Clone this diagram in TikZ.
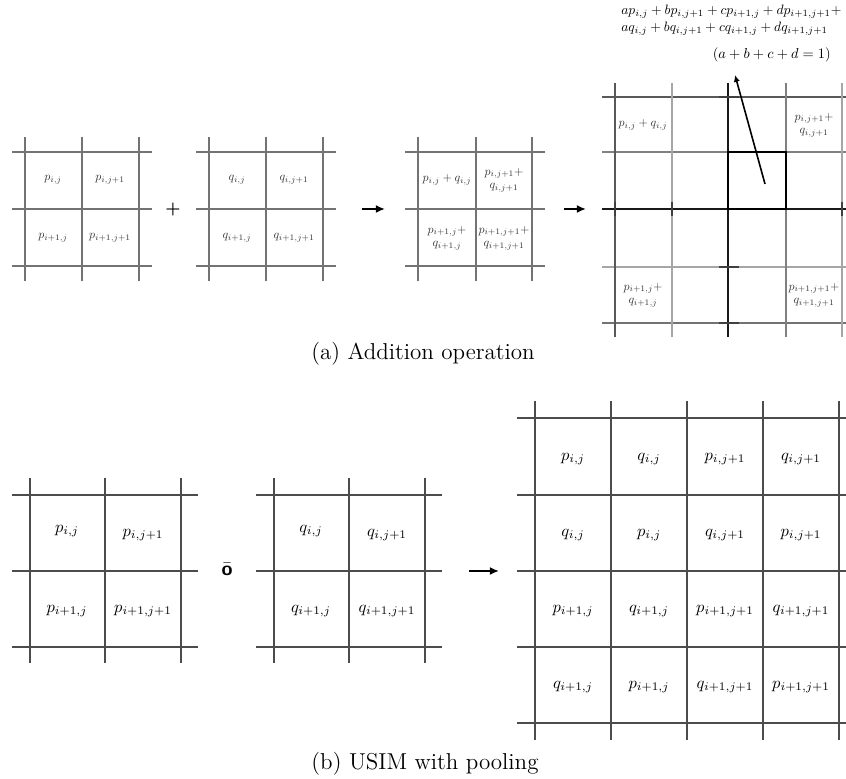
\documentclass[tikz,border=0pt]{standalone}
\usepackage{amsmath}
\usetikzlibrary{arrows.meta}

\begin{document}
\begin{tikzpicture}[x=0.5pt,y=-0.5pt,
 gline/.style={draw=black!55,line width=0.55pt},
 bline/.style={draw=black!70,line width=0.6pt},
 tiny/.style={font=\fontsize{10}{11}\selectfont,scale=0.6,text=black!80,align=center,inner sep=1pt},
 cell/.style={font=\fontsize{10}{12}\selectfont,scale=0.83},
 op/.style={font=\fontsize{8}{9}\selectfont\bfseries},
 arr/.style={-{Latex[length=1.6mm,width=1.4mm]},line width=0.9pt},
 captext/.style={font=\fontsize{11.5}{13}\selectfont}]
\useasboundingbox (0,0) rectangle (846,779);

% (a) first two grids
\foreach \dx in {0,184} {
  \foreach \y in {152,209,266} \draw[gline] (12+\dx,\y) -- (152+\dx,\y);
  \foreach \x in {25,82,139} \draw[gline] (\x+\dx,137) -- (\x+\dx,281);
}
\node[tiny] (p00) at (53,180) {$p_{i,j}$};
\node[tiny] (p01) at (110,180) {$p_{i,j+1}$};
\node[tiny] (p10) at (53,238) {$p_{i+1,j}$};
\node[tiny] (p11) at (110,238) {$p_{i+1,j+1}$};
\node[op] (plus) at (173,210) {+};
\node[tiny] (q00) at (237,180) {$q_{i,j}$};
\node[tiny] (q01) at (294,180) {$q_{i,j+1}$};
\node[tiny] (q10) at (237,238) {$q_{i+1,j}$};
\node[tiny] (q11) at (294,238) {$q_{i+1,j+1}$};
\coordinate (a1s) at (362,209); \coordinate (a1e) at (385,209);
\draw[arr] (a1s) -- (a1e);

% (a) sum grid
\foreach \y in {152,209,266} \draw[gline] (405,\y) -- (545,\y);
\foreach \x in {418,476,532} \draw[gline] (\x,137) -- (\x,281);
\node[tiny] (s00) at (447,180) {$p_{i,j}+q_{i,j}$};
\node[tiny] (s01) at (504,180) {$p_{i,j+1}+$\\$q_{i,j+1}$};
\node[tiny] (s10) at (447,238) {$p_{i+1,j}+$\\$q_{i+1,j}$};
\node[tiny] (s11) at (504,238) {$p_{i+1,j+1}+$\\$q_{i+1,j+1}$};
\coordinate (a2s) at (564,209); \coordinate (a2e) at (586,209);
\draw[arr] (a2s) -- (a2e);

% (a) upsampled grid
\begin{scope}
\clip (595,0) rectangle (846,345);
\foreach \y/\c in {97/65,152/50,209/90,267/35,323/55}
  \draw[draw=black!\c,line width=0.55pt] (602,\y) -- (860,\y);
\foreach \x/\c in {615/65,672/35,728/90,786/50,842/35}
  \draw[draw=black!\c,line width=0.55pt] (\x,83) -- (\x,337);
\foreach \y in {97,267,323} \draw[black!75,line width=0.6pt] (719,\y) -- (739,\y);
\foreach \x in {615,672,842} \draw[black!75,line width=0.6pt] (\x,202) -- (\x,216);
\end{scope}
\draw[line width=1.3pt] (728,152) rectangle (786,209);
\node[tiny] (u00) at (643,125) {$p_{i,j}+q_{i,j}$};
\node[tiny] (u03) at (814,125) {$p_{i,j+1}+$\\$q_{i,j+1}$};
\node[tiny] (u30) at (643,295) {$p_{i+1,j}+$\\$q_{i+1,j}$};
\node[tiny] (u33) at (814,295) {$p_{i+1,j+1}+$\\$q_{i+1,j+1}$};
\node[anchor=north west,align=left,inner sep=0pt,font=\fontsize{10}{12.4}\selectfont,scale=0.68] (formula) at (621,5)
  {$ap_{i,j}+bp_{i,j+1}+cp_{i+1,j}+dp_{i+1,j+1}+$\\
   $aq_{i,j}+bq_{i,j+1}+cq_{i+1,j}+dq_{i+1,j+1}$};
\node[anchor=east,inner sep=0pt,font=\fontsize{10}{11}\selectfont,scale=0.72] (sumone) at (831,55) {$(a+b+c+d=1)$};
\coordinate (selc) at (765,184); \coordinate (seltip) at (735,75);
\draw[-{Latex[length=1.2mm,width=1.1mm]},line width=0.8pt] (selc) -- (seltip);
\node[captext] (capa) at (423,354) {(a) Addition operation};

% (b) input grids
\foreach \dx in {0,244} {
  \foreach \y in {495,571,647} \draw[bline] (12+\dx,\y) -- (198+\dx,\y);
  \foreach \x in {30,105,181} \draw[bline] (\x+\dx,478) -- (\x+\dx,663);
}
\node[cell] (bp00) at (67,531) {$p_{i,j}$};
\node[cell] (bp01) at (143,535) {$p_{i,j+1}$};
\node[cell] (bp10) at (67,611) {$p_{i+1,j}$};
\node[cell] (bp11) at (143,611) {$p_{i+1,j+1}$};
\node[font=\fontsize{10}{11}\selectfont] (pool) at (227,569) {$\bar{\textbf{\textsf{o}}}$};
\node[cell] (bq00) at (311,531) {$q_{i,j}$};
\node[cell] (bq01) at (387,535) {$q_{i,j+1}$};
\node[cell] (bq10) at (311,611) {$q_{i+1,j}$};
\node[cell] (bq11) at (387,611) {$q_{i+1,j+1}$};
\coordinate (b1s) at (469,571); \coordinate (b1e) at (499,571);
\draw[arr] (b1s) -- (b1e);

% (b) pooled grid
\begin{scope}
\clip (505,395) rectangle (846,745);
\foreach \y in {418,495,571,647,723} \draw[bline] (517,\y) -- (860,\y);
\foreach \x in {535,611,687,763,839} \draw[bline] (\x,401) -- (\x,740);
\end{scope}
\foreach \lab [count=\k from 0] in {
  p_{i,j},q_{i,j},p_{i,j+1},q_{i,j+1},
  q_{i,j},p_{i,j},q_{i,j+1},p_{i,j+1},
  p_{i+1,j},q_{i+1,j},p_{i+1,j+1},q_{i+1,j+1},
  q_{i+1,j},p_{i+1,j},q_{i+1,j+1},p_{i+1,j+1}} {
  \pgfmathtruncatemacro{\r}{int(\k/4)}
  \pgfmathtruncatemacro{\c}{mod(\k,4)}
  \node[cell] (m\r\c) at (573+76*\c,459+76*\r) {$\lab$};
}
\node[captext] (capb) at (425,764) {(b) USIM with pooling};
\end{tikzpicture}
\end{document}
